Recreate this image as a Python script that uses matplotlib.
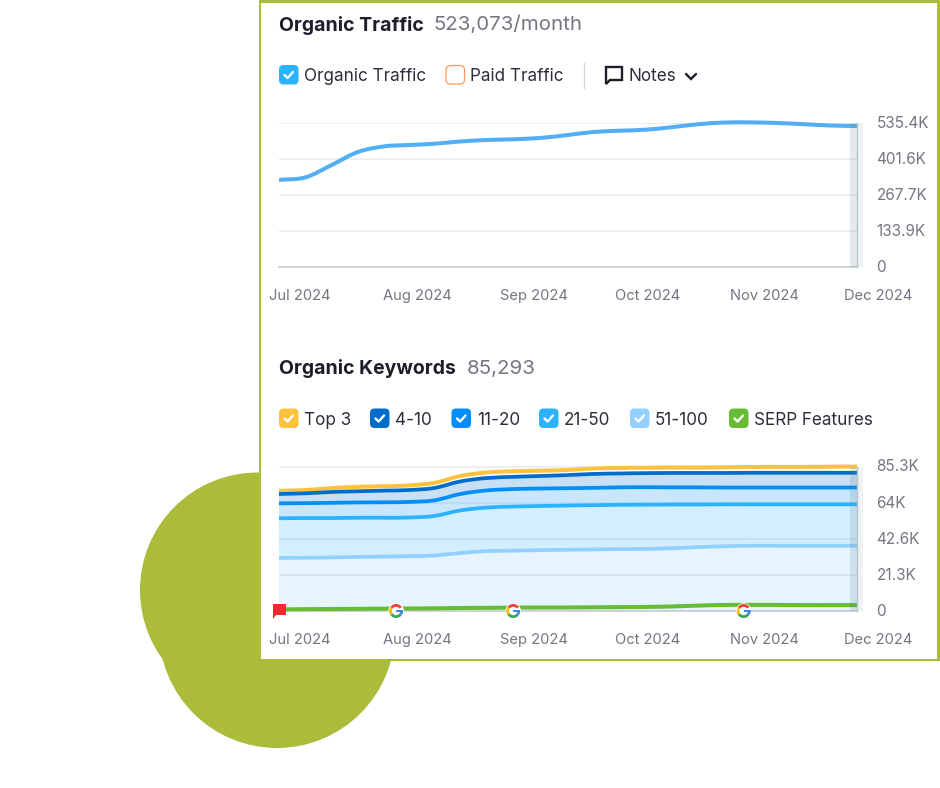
import matplotlib
matplotlib.use('Agg')
import matplotlib.pyplot as plt
import matplotlib.dates as mdates
import numpy as np
import pandas as pd
from matplotlib.patches import Circle, Rectangle, FancyBboxPatch, Polygon, Wedge, PathPatch
from matplotlib.path import Path
from matplotlib.transforms import ScaledTranslation

plt.rcParams['font.family'] = ['Inter', 'DejaVu Sans']

dates = pd.to_datetime([
    '2024-07-01', '2024-07-08', '2024-07-15', '2024-07-22', '2024-07-29',
    '2024-08-04', '2024-08-11', '2024-08-18', '2024-08-25',
    '2024-09-01', '2024-09-08', '2024-09-15', '2024-09-22', '2024-09-29',
    '2024-10-06', '2024-10-13', '2024-10-20', '2024-10-27',
    '2024-11-03', '2024-11-10', '2024-11-17', '2024-11-24', '2024-12-01'])

# thousands
organic_traffic = [323.5, 333.0, 379.2, 427.6, 448.0, 452.5, 457.3, 465.9, 471.4,
                   474.0, 478.9, 488.9, 500.8, 505.6, 509.4, 518.7, 529.8, 536.1,
                   536.5, 534.3, 529.8, 525.0, 523.1]

# keyword levels as drawn (stacked)
top3 = [71.0, 71.4, 72.6, 73.3, 73.7, 74.1, 75.6, 79.7, 81.8, 82.5, 82.8, 83.2,
        84.1, 84.4, 84.6, 84.7, 84.7, 84.8, 85.0, 85.1, 85.1, 85.2, 85.3]
pos_4_10 = [69.1, 69.5, 70.3, 70.7, 71.1, 71.4, 72.6, 76.5, 78.5, 79.2, 79.7, 80.2,
            80.9, 81.2, 81.4, 81.5, 81.5, 81.5, 81.6, 81.6, 81.6, 81.6, 81.6]
pos_11_20 = [63.6, 63.7, 63.9, 64.1, 64.2, 64.4, 65.3, 69.1, 71.2, 72.0, 72.3, 72.5,
             72.7, 73.0, 73.1, 73.0, 73.0, 72.9, 72.9, 72.9, 72.9, 72.9, 72.9]
pos_21_50 = [54.8, 54.9, 54.9, 55.1, 55.1, 55.2, 56.1, 59.4, 61.1, 61.7, 62.0, 62.3,
             62.5, 62.7, 62.8, 62.9, 62.9, 63.0, 63.0, 63.0, 63.0, 63.0, 63.0]
pos_51_100 = [31.4, 31.5, 31.7, 32.0, 32.2, 32.4, 32.8, 34.3, 35.4, 35.7, 36.0, 36.2,
              36.4, 36.6, 36.7, 37.1, 37.8, 38.3, 38.6, 38.6, 38.6, 38.6, 38.6]
serp = [1.1, 1.2, 1.3, 1.4, 1.5, 1.6, 1.7, 1.9, 2.0, 2.1, 2.2, 2.2, 2.3, 2.4, 2.5,
        2.8, 3.3, 3.7, 3.7, 3.7, 3.6, 3.6, 3.6]

month_ticks = pd.to_datetime(['2024-07-01', '2024-08-01', '2024-09-01',
                              '2024-10-01', '2024-11-01', '2024-12-01'])
month_labels = ['Jul 2024', 'Aug 2024', 'Sep 2024', 'Oct 2024', 'Nov 2024', 'Dec 2024']
traffic_ticks = [0, 133.9, 267.7, 401.6, 535.4]
traffic_labels = ['0', '133.9K', '267.7K', '401.6K', '535.4K']
kw_ticks = [0, 21.3, 42.6, 64, 85.3]
kw_labels = ['0', '21.3K', '42.6K', '64K', '85.3K']
google_dates = pd.to_datetime(['2024-08-01', '2024-09-01', '2024-11-01'])
flag_date = pd.to_datetime('2024-07-01')

GREEN = '#abbc3a'
DARK = '#1c1e29'
MID = '#2c2f3a'
GREY = '#747681'
W, H = 940, 788

fig = plt.figure(figsize=(9.4, 7.88), dpi=100, facecolor='white')


def pixel_axes(z):
    a = fig.add_axes([0, 0, 1, 1], zorder=z)
    a.set_xlim(0, W)
    a.set_ylim(H, 0)
    a.axis('off')
    a.patch.set_alpha(0)
    return a


def chart_axes(left, top, right, bottom):
    return fig.add_axes([left / W, 1 - bottom / H, (right - left) / W, (bottom - top) / H], zorder=2)


def curve_parts(y):
    # bezier segments through the read values, like the rounded lines of the original
    x = mdates.date2num(dates)
    y = np.asarray(y, dtype=float)
    tx = np.gradient(x)
    ty = np.gradient(y)
    verts = [(x[0], y[0])]
    for i in range(len(x) - 1):
        verts.append((x[i] + tx[i] / 3, y[i] + ty[i] / 3))
        verts.append((x[i + 1] - tx[i + 1] / 3, y[i + 1] - ty[i + 1] / 3))
        verts.append((x[i + 1], y[i + 1]))
    return verts


def curve_line(ax, y, color, lw, z):
    verts = curve_parts(y)
    codes = [Path.MOVETO] + [Path.CURVE4] * (len(verts) - 1)
    ax.add_patch(PathPatch(Path(verts, codes), fc='none', ec=color, lw=lw, zorder=z,
                           clip_on=False, capstyle='butt'))


def curve_band(ax, upper, lower, color):
    up = curve_parts(upper)
    low = curve_parts(lower)[::-1]
    verts = up + low + [up[0]]
    codes = ([Path.MOVETO] + [Path.CURVE4] * (len(up) - 1) + [Path.LINETO]
             + [Path.CURVE4] * (len(low) - 1) + [Path.CLOSEPOLY])
    ax.add_patch(PathPatch(Path(verts, codes), fc=color, ec='none', lw=0, zorder=1))


bg = pixel_axes(0)
fg = pixel_axes(5)

# background circles and card
bg.add_patch(Circle((257.5, 590), 117.5, fc=GREEN, ec='none'))
bg.add_patch(Circle((277, 630), 118, fc=GREEN, ec='none'))
bg.add_patch(Rectangle((259, 0), 681, 661, fc=GREEN, ec='none'))
bg.add_patch(Rectangle((261, 3), 676, 655.5, fc='white', ec='none'))


def style_axis(ax, ticks, labels, top_val):
    ax.patch.set_alpha(0)
    for s in ['top', 'left', 'right']:
        ax.spines[s].set_visible(False)
    ax.spines['bottom'].set_color('#c4cbd0')
    ax.spines['bottom'].set_linewidth(1.2)
    ax.set_xlim(month_ticks[0], month_ticks[-1])
    ax.set_ylim(0, top_val)
    ax.yaxis.tick_right()
    ax.set_yticks(ticks[1:] + [ticks[0]])
    ax.set_yticklabels(labels[1:] + [labels[0]])
    ax.set_xticks(month_ticks)
    ax.set_xticklabels(month_labels)
    ax.tick_params(axis='y', length=0, pad=14, labelsize=11, labelcolor=GREY)
    ax.tick_params(axis='x', length=0, pad=15.7, labelsize=10.6, labelcolor=GREY)
    for t in ax.get_xticklabels():
        t.set_transform(t.get_transform() + ScaledTranslation(0.21, 0, fig.dpi_scale_trans))
    for t in ax.get_yticklabels():
        t.set_transform(t.get_transform() + ScaledTranslation(0, 0.01, fig.dpi_scale_trans))


# Organic traffic chart
ax1 = chart_axes(279, 122.7, 857, 267.3)
style_axis(ax1, traffic_ticks, traffic_labels, 535.4)
ax1.hlines(traffic_ticks[1:], month_ticks[0], month_ticks[-1], color='#e8e9ef', lw=1.1, zorder=1)
curve_line(ax1, organic_traffic, '#52aef5', 2.9, 3)

# Organic keywords chart
ax2 = chart_axes(279, 466.5, 857, 611.2)
style_axis(ax2, kw_ticks, kw_labels, 85.3)
zeros = [0] * len(dates)
curve_band(ax2, pos_51_100, zeros, '#e5f4ff')
curve_band(ax2, pos_21_50, pos_51_100, '#d3eeff')
curve_band(ax2, pos_11_20, pos_21_50, '#c8e7fe')
curve_band(ax2, pos_4_10, pos_11_20, '#c9dff3')
ax2.hlines(kw_ticks[1:-1], month_ticks[0], month_ticks[-1], color='#8a9bb0', alpha=0.22, lw=1.1, zorder=2)
ax2.hlines(85.3, month_ticks[0], month_ticks[-1], color='#e8e9ef', lw=1.1, zorder=0)
curve_line(ax2, top3, '#ffc23f', 2.9, 3)
curve_line(ax2, pos_4_10, '#006dca', 2.7, 4)
curve_line(ax2, pos_11_20, '#008ff8', 2.7, 4)
curve_line(ax2, pos_21_50, '#2bb3ff', 2.7, 4)
curve_line(ax2, pos_51_100, '#91d0ff', 2.7, 4)
curve_line(ax2, serp, '#66bc33', 2.9, 4)

# grey band at the right edge of each chart
for top, bottom in [(123, 267.3), (467, 611.2)]:
    fg.add_patch(Rectangle((850, top), 7, bottom - top, fc='#5f7f8a', alpha=0.17, lw=0))
    fg.add_patch(Rectangle((857, top), 6, bottom - top, fc='#5f7f8a', alpha=0.09, lw=0))
    fg.plot([857, 857], [top, bottom], color='#b6c5ca', lw=1)


def checkbox(x, y, color, checked=True):
    if checked:
        fg.add_patch(FancyBboxPatch((x, y), 19.5, 19.5, boxstyle='round,pad=0,rounding_size=4.5',
                                    fc=color, ec='none'))
        fg.plot([x + 5.5, x + 8.6, x + 14], [y + 10, y + 13, y + 7], color='white', lw=1.7,
                solid_capstyle='round', solid_joinstyle='round')
    else:
        fg.add_patch(FancyBboxPatch((x + 0.5, y + 0.5), 18.5, 18.5, boxstyle='round,pad=0,rounding_size=4.5',
                                    fc='white', ec=color, lw=0.9))


def label(x, y, s, size=12.3, color=MID, **kw):
    fg.text(x, y, s, fontsize=size, color=color, va='center', ha='left', **kw)


# titles
label(279, 25, 'Organic Traffic', size=14, color=DARK, fontweight='bold')
label(433.5, 25, '523,073/month', size=14.7, color=GREY)
label(279, 368.5, 'Organic Keywords', size=14, color=DARK, fontweight='bold')
label(467, 368.5, '85,293', size=14.8, color=GREY)

# traffic legend
checkbox(279, 65, '#2bb3ff')
label(304, 76.5, 'Organic Traffic')
checkbox(445.5, 65, '#ff9a5c', checked=False)
label(470, 76.5, 'Paid Traffic')
fg.plot([583.5, 583.5], [63, 88], color='#d5d6dc', lw=0.9)
fg.add_patch(Polygon([(606, 67), (622, 67), (622, 80), (610, 80), (606, 84)], closed=True,
                     fc='white', ec=DARK, lw=1.7, joinstyle='miter'))
label(628, 76.5, 'Notes')
fg.plot([686, 691, 696], [74, 79, 74], color=DARK, lw=1.7, solid_capstyle='round', solid_joinstyle='miter')

# keyword legend
checkbox(279, 408.5, '#ffc23f')
label(304, 420, 'Top 3')
checkbox(370, 408.5, '#006dca')
label(395, 420, '4-10')
checkbox(451.5, 408.5, '#008ff8')
label(477, 420, '11-20')
checkbox(539, 408.5, '#2bb3ff')
label(564, 420, '21-50')
checkbox(630, 408.5, '#91d0ff')
label(655, 420, '51-100')
checkbox(729, 408.5, '#66bc33')
label(754, 420, 'SERP Features')


def google_icon(cx, cy):
    fg.add_patch(Circle((cx, cy), 7.8, fc='white', ec='none'))
    # y axis is inverted, so angles run clockwise on screen
    fg.add_patch(Wedge((cx, cy), 7, 215, 325, width=2.8, fc='#ea4335', ec='none'))
    fg.add_patch(Wedge((cx, cy), 7, 145, 215, width=2.8, fc='#fbbc05', ec='none'))
    fg.add_patch(Wedge((cx, cy), 7, 35, 145, width=2.8, fc='#34a853', ec='none'))
    fg.add_patch(Wedge((cx, cy), 7, 0, 35, width=2.8, fc='#4285f4', ec='none'))
    fg.add_patch(Rectangle((cx, cy - 1.3), 7, 2.6, fc='#4285f4', ec='none'))


for d in google_dates:
    px = ax2.transData.transform((mdates.date2num(d), 0))[0]
    google_icon(px, 611)

fx = ax2.transData.transform((mdates.date2num(flag_date), 0))[0]
fg.add_patch(Polygon([(fx - 6, 604), (fx + 7, 604), (fx + 7, 615), (fx - 3, 615), (fx - 6, 619)],
                     closed=True, fc='#ee2a2f', ec='none'))

fig.savefig('out.png', dpi=100)
